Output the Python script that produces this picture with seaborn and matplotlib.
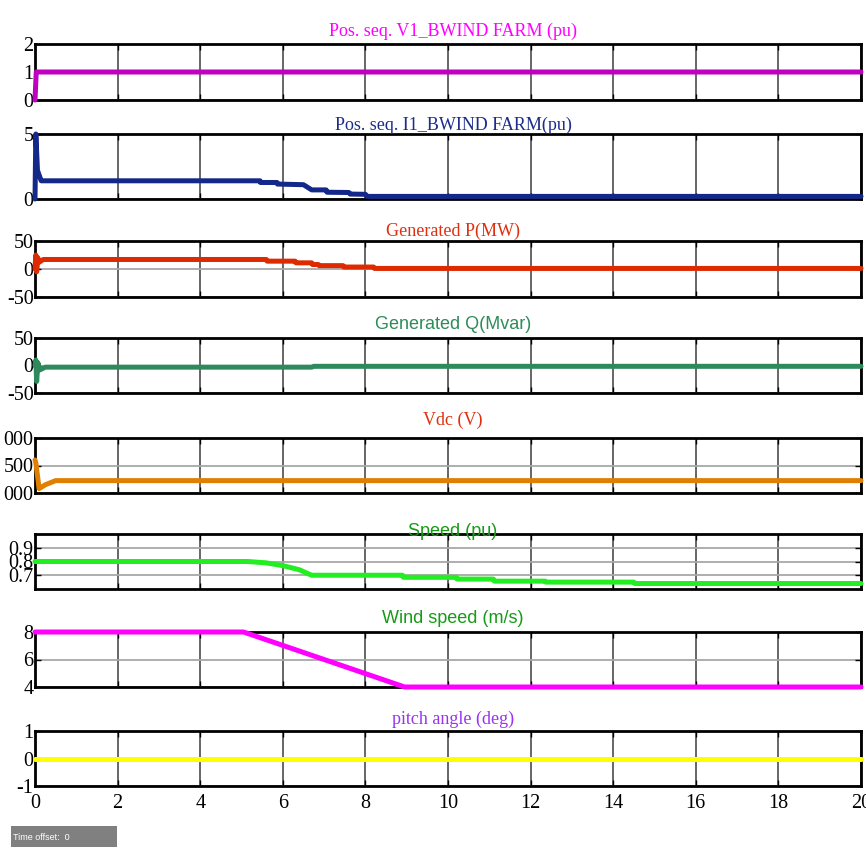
import numpy as np
import pandas as pd
import matplotlib
matplotlib.use("Agg")
import matplotlib.pyplot as plt
import seaborn as sns
from matplotlib import font_manager
from matplotlib.patches import Rectangle

# ---------------- data ----------------
time_ticks = [0, 2, 4, 6, 8, 10, 12, 14, 16, 18, 20]

v1_t = [0.0, 0.03, 20.0]
v1_v = [0.0, 1.0, 1.0]

i1_t = [0.0, 0.02, 0.06, 0.15, 5.45, 5.46, 5.86, 5.87, 6.5, 6.7, 7.05, 7.07, 7.6, 7.63, 8.0, 8.05, 20.0]
i1_v = [0.0, 5.0, 2.2, 1.4, 1.4, 1.27, 1.27, 1.15, 1.1, 0.7, 0.7, 0.52, 0.5, 0.38, 0.36, 0.2, 0.2]

p_t = [0.0, 0.02, 0.04, 0.07, 0.1, 0.2, 5.6, 5.62, 6.3, 6.32, 6.7, 6.72, 6.86, 6.88, 7.46, 7.48, 8.2, 8.22, 20.0]
p_v = [0.0, 25.0, -5.0, 20.0, 12.0, 17.0, 17.0, 14.0, 14.0, 11.0, 11.0, 8.0, 8.0, 6.0, 6.0, 3.5, 3.5, 1.0, 1.0]

q_t = [0.0, 0.02, 0.04, 0.07, 0.12, 0.25, 6.7, 6.75, 20.0]
q_v = [0.0, 10.0, -29.0, 5.0, -8.0, -3.0, -3.0, -1.5, -1.5]

vdc_t = [0.0, 0.02, 0.1, 0.25, 0.5, 20.0]
vdc_v = [1600.0, 1550.0, 1080.0, 1150.0, 1225.0, 1225.0]

speed_t = [0.0, 5.15, 5.6, 6.0, 6.4, 6.7, 8.9, 8.92, 10.2, 10.22, 11.1, 11.12, 12.35, 12.37, 14.5, 14.52, 20.0]
speed_v = [0.80, 0.80, 0.79, 0.77, 0.74, 0.70, 0.70, 0.685, 0.685, 0.672, 0.672, 0.657, 0.657, 0.65, 0.65, 0.64, 0.64]

wind_t = [0.0, 5.05, 8.95, 20.0]
wind_v = [8.0, 8.0, 4.0, 4.0]

pitch_t = [0.0, 20.0]
pitch_v = [0.0, 0.0]

titles = ["Pos. seq. V1_BWIND FARM (pu)", "Pos. seq. I1_BWIND FARM(pu)", "Generated P(MW)",
          "Generated Q(Mvar)", "Vdc (V)", "Speed (pu)", "Wind speed (m/s)", "pitch angle (deg)"]
ylims = [(0, 2), (0, 5), (-50, 50), (-50, 50), (1000, 2000), (0.6, 1.0), (4, 8), (-1, 1)]
yticks = [[0, 1, 2], [0, 5], [-50, 0, 50], [-50, 0, 50], [1000, 1500, 2000],
          [0.7, 0.8, 0.9], [4, 6, 8], [-1, 0, 1]]
yticklabels = [["0", "1", "2"], ["0", "5"], ["-50", "0", "50"], ["-50", "0", "50"],
               ["000", "500", "000"], ["0.7", "0.8", "0.9"], ["4", "6", "8"], ["-1", "0", "1"]]
series = [(v1_t, v1_v), (i1_t, i1_v), (p_t, p_v), (q_t, q_v), (vdc_t, vdc_v),
          (speed_t, speed_v), (wind_t, wind_v), (pitch_t, pitch_v)]

# ---------------- styles ----------------
title_colors = ["#FF00FF", "#1C2C8C", "#E03010", "#2E8B5A", "#E03010", "#169B16", "#169B16", "#9933EE"]
line_colors = ["#C000C0", "#14288A", "#DD2A00", "#2E8A5C", "#E08000", "#22EE22", "#FF00FF", "#FFFF00"]
sans_titles = [False, False, False, True, False, True, True, False]
title_offsets_px = [4, 0, 1, 5, 9, -6, 5, 3]
panel_px = [(44, 100), (134, 199), (241, 297), (338, 393), (438, 493), (534, 589), (632, 687), (731, 786)]

sns.set_style("white")
names = {f.name for f in font_manager.fontManager.ttflist}
serif = "Liberation Serif" if "Liberation Serif" in names else "DejaVu Serif"
sans = "Liberation Sans Narrow" if "Liberation Sans Narrow" in names else "Liberation Sans"
plt.rcParams["font.family"] = [serif, "DejaVu Sans"]

W, H = 866, 848
fig = plt.figure(figsize=(W / 100, H / 100), dpi=100)
left_px, right_px = 35, 861

for k in range(8):
    top, bot = panel_px[k]
    ax = fig.add_axes([left_px / W, 1 - bot / H, (right_px - left_px) / W, (bot - top) / H])
    t, v = series[k]
    df = pd.DataFrame({"time": t, "value": v})
    sns.lineplot(data=df, x="time", y="value", ax=ax, color=line_colors[k], lw=3.6,
                 estimator=None, sort=False, legend=False, zorder=3, clip_on=False)
    ax.set_xlim(0, 20)
    ax.set_ylim(*ylims[k])
    ax.set_xticks(time_ticks)
    ax.set_yticks(yticks[k])
    ax.set_yticklabels(yticklabels[k])
    ax.set_xlabel("")
    ax.set_ylabel("")
    if k < 7:
        ax.set_xticklabels([])
    ax.xaxis.grid(True, color="#5a5a5a", lw=1.3)
    ax.yaxis.grid(True, color="#a8a8a8", lw=1.3)
    ax.set_axisbelow(True)
    for s in ax.spines.values():
        s.set_visible(True)
        s.set_color("black")
        s.set_linewidth(2.0)
    ax.tick_params(axis="both", direction="in", length=4, width=1, colors="black",
                   labelsize=14.5, top=True, right=True, bottom=True, left=True)
    ax.tick_params(axis="y", pad=1)
    ax.tick_params(axis="x", pad=6)
    for lab in ax.get_yticklabels() + ax.get_xticklabels():
        lab.set_fontfamily(serif)
    fam = [sans, "DejaVu Sans"] if sans_titles[k] else [serif, "DejaVu Sans"]
    ax.annotate(titles[k], xy=(0.506, 1.0), xycoords="axes fraction",
                xytext=(0, title_offsets_px[k] * 0.72), textcoords="offset points",
                ha="center", va="bottom", color=title_colors[k], fontsize=13,
                family=fam, zorder=5)

# Time offset box
fig.add_artist(Rectangle((11 / W, 1 - 847 / H), 106 / W, 21 / H, transform=fig.transFigure,
                         facecolor="#808080", edgecolor="none"))
fig.text(13 / W, 1 - 837 / H, "Time offset:  0", color="white", fontsize=6.5,
         family=[sans, "DejaVu Sans"], va="center", ha="left")

fig.savefig("out.png", dpi=100)
